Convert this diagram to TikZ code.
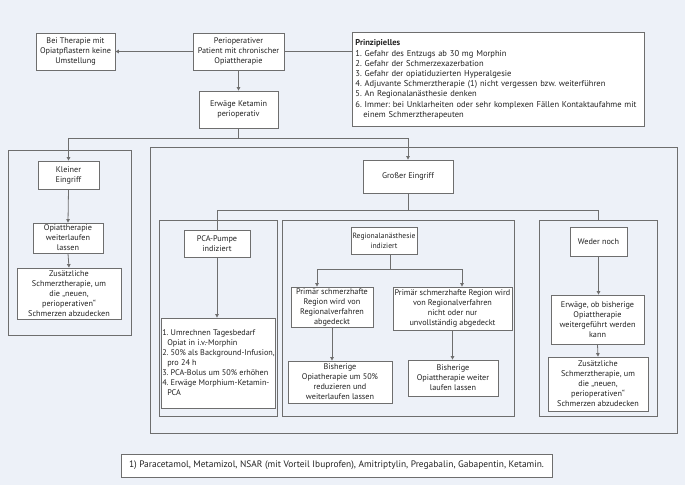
\documentclass[tikz,border=0pt]{standalone}
\usepackage{fontspec}
\setmainfont{PT Sans}
\usetikzlibrary{arrows.meta}
\definecolor{bg}{HTML}{EDF1F8}
\definecolor{lc}{HTML}{6E6E6E}
\definecolor{tc}{HTML}{222222}
\frenchspacing
\begin{document}
\begin{tikzpicture}[x=1pt,y=-1pt,
  box/.style={draw=lc, fill=white, line width=0.8pt, align=center, inner sep=1pt, text=tc, font=\fontsize{8.2}{10}\selectfont},
  cont/.style={draw=lc, line width=0.8pt, inner sep=0pt, anchor=north west},
  ln/.style={draw=lc, line width=0.8pt},
  arr/.style={ln, -{Triangle[length=3.5pt,width=3.5pt]}}]
\fill[bg] (0,0) rectangle (685,485);
\useasboundingbox (0,0) rectangle (685,485);

% containers
\node[cont, minimum width=123pt, minimum height=185pt] (kc) at (8,150) {};
\node[cont, minimum width=527pt, minimum height=286pt] (gc) at (150,147) {};
\node[cont, minimum width=118pt, minimum height=196pt] (pc) at (159,220) {};
\node[cont, minimum width=232pt, minimum height=196pt] (rc) at (282,220) {};
\node[cont, minimum width=118pt, minimum height=196pt] (wc) at (539,220) {};

% boxes
\node[box, minimum width=79pt, minimum height=37pt] (bei) at (75.5,51.5) {Bei Therapie mit\\Opiatpflastern keine\\Umstellung};
\node[box, minimum width=91pt, minimum height=37pt] (peri) at (238.5,51.5) {Perioperativer\\Patient mit chronischer\\Opiattherapie};
\node[box, minimum width=79pt, minimum height=37pt] (erw) at (238.5,109.5) {Erwäge Ketamin\\perioperativ};
\node[box, minimum width=292pt, minimum height=94pt, text width=286pt, align=left, inner sep=3pt, anchor=north west, font=\fontsize{8.5}{10.2}\selectfont] (prin) at (352,32) {\textbf{Prinzipielles}\\
1. Gefahr des Entzugs ab 30 mg Morphin\\
2. Gefahr der Schmerzexazerbation\\
3. Gefahr der opiatiduzierten Hyperalgesie\\
4. Adjuvante Schmerztherapie (1) nicht vergessen bzw. weiterführen\\
5. An Regionalanästhesie denken\\
6. Immer: bei Unklarheiten oder sehr komplexen Fällen Kontaktaufahme mit\\
\hspace*{8pt}einem Schmerztherapeuten};

\node[box, minimum width=61pt, minimum height=28pt] (klein) at (68.5,175) {Kleiner\\Eingriff};
\node[box, minimum width=70pt, minimum height=30pt] (opi) at (68,238) {Opiattherapie\\weiterlaufen\\lassen};
\node[box, minimum width=104pt, minimum height=51pt] (zus1) at (69,293.5) {Zusätzliche\\Schmerztherapie, um\\die „neuen,\\perioperativen“\\Schmerzen abzudecken};

\node[box, minimum width=90pt, minimum height=33pt] (gross) at (408,176.5) {Großer Eingriff};

\node[box, minimum width=66pt, minimum height=27pt] (pca) at (217,243.5) {PCA-Pumpe\\indiziert};
\node[box, minimum width=111pt, minimum height=90pt, align=left, inner sep=1pt] (list) at (218.5,363) {1. Umrechnen Tagesbedarf\\
\hspace*{5pt}Opiat in i.v.-Morphin\\
2. 50\% als Background-Infusion,\\
\hspace*{5pt}pro 24 h\\
3. PCA-Bolus um 50\% erhöhen\\
4. Erwäge Morphium-Ketamin-\\
\hspace*{5pt}PCA};

\node[box, minimum width=66pt, minimum height=27pt, font=\fontsize{7.6}{10}\selectfont] (reg) at (384,240.5) {Regionalanästhesie\\indiziert};
\node[box, minimum width=82pt, minimum height=40pt] (pl) at (332,307) {Primär schmerzhafte\\Region wird von\\Regionalverfahren\\abgedeckt};
\node[box, minimum width=119pt, minimum height=43pt] (pr) at (452.5,308.5) {Primär schmerzhafte Region wird\\von Regionalverfahren\\nicht oder nur\\unvollständig abgedeckt};
\node[box, minimum width=104pt, minimum height=42pt] (bl) at (340,382) {Bisherige\\Opiatherapie um 50\%\\reduzieren und\\weiterlaufen lassen};
\node[box, minimum width=90pt, minimum height=36pt] (br) at (453,378) {Bisherige\\Opiattherapie weiter\\laufen lassen};

\node[box, minimum width=57pt, minimum height=29pt] (weder) at (598.5,241.5) {Weder noch};
\node[box, minimum width=93pt, minimum height=49pt] (erw2) at (597.5,319.5) {Erwäge, ob bisherige\\Opiattherapie\\weitergeführt werden\\kann};
\node[box, minimum width=100pt, minimum height=54pt] (zus2) at (598,384) {Zusätzliche\\Schmerztherapie, um\\die „neuen,\\perioperativen“\\Schmerzen abzudecken};

\node[box, minimum width=431pt, minimum height=23pt, font=\fontsize{9.4}{11}\selectfont] (foot) at (336.5,465.5) {1) Paracetamol, Metamizol, NSAR (mit Vorteil Ibuprofen), Amitriptylin, Pregabalin, Gabapentin, Ketamin.};

% connectors
\draw[arr] (peri.west) -- (bei.east);
\draw[ln] (peri.east) -- (peri.east -| prin.west);
\draw[arr] (peri.south) -- (erw.north);
\coordinate (j1) at (238.5,138);
\draw[arr] (erw.south) -- (j1) -| (klein.north);
\draw[arr] (j1) -| (gross.north);
\draw[arr] (klein.south) -- (opi.north);
\draw[arr] (opi.south) -- (zus1.north);

\coordinate (j2) at (408,210);
\draw[ln] (gross.south) -- (j2) -| (pca.north);
\draw[ln] (j2) -| (wc.north);
\draw[arr] (pca.south) -- (pca.south |- list.north);

\coordinate (j3) at (390,269);
\coordinate (j3l) at (317,269);
\coordinate (j3r) at (462,269);
\draw[ln] (j3 |- reg.south) -- (j3);
\draw[arr] (j3) -- (j3l) -- (j3l |- pl.north);
\draw[arr] (j3) -- (j3r) -- (j3r |- pr.north);
\draw[arr] (pl.south) -- (pl.south |- bl.north);
\draw[arr] (pr.south) -- (pr.south |- br.north);

\draw[arr] (weder.south) -- (weder.south |- erw2.north);
\draw[arr] (erw2.south) -- (zus2.north);
\end{tikzpicture}
\end{document}
